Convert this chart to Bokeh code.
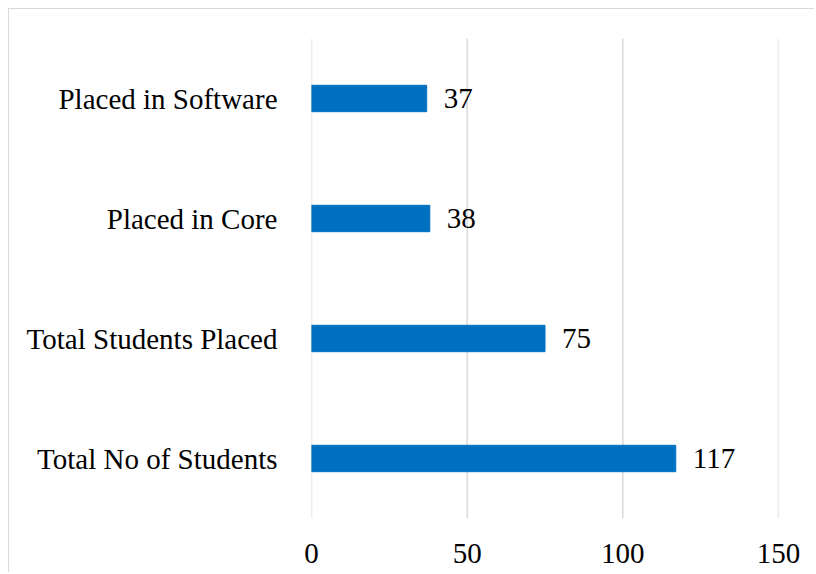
from bokeh.plotting import figure
from bokeh.models import ColumnDataSource, FactorRange, Range1d, FixedTicker, LabelSet, Span
from bokeh.embed import file_html
from bokeh.resources import INLINE

categories = ["Total No of Students", "Total Students Placed", "Placed in Core", "Placed in Software"]
values = [117, 75, 38, 37]
x_ticks = [0, 50, 100, 150]

src = ColumnDataSource(dict(cat=categories, val=values, lab=[str(v) for v in values]))

FONT = "Liberation Serif"
FS = "29px"

p = figure(width=806, height=564, output_backend="svg", toolbar_location=None,
           y_range=FactorRange(factors=categories, range_padding=0),
           x_range=Range1d(0, 150),
           min_border_left=302, min_border_right=37, min_border_top=29, min_border_bottom=55)
p.styles = {"margin-left": "8px", "margin-top": "8px",
            "border-left": "1px solid #d9d9d9", "border-top": "1px solid #d9d9d9"}
p.outline_line_color = None

for t in x_ticks:
    p.add_layout(Span(location=t, dimension="height", line_color="#d9d9d9",
                      line_width=1.5, level="underlay"))

p.hbar(y="cat", right="val", left=0, height=0.22, source=src, color="#0070C0")

labels = LabelSet(x="val", y="cat", text="lab", source=src, x_offset=17,
                  text_align="left", text_baseline="middle",
                  text_font=FONT, text_font_size=FS, text_color="#000000")
p.add_layout(labels)

p.xaxis.ticker = FixedTicker(ticks=x_ticks)
p.xaxis.axis_line_color = None
p.xaxis.major_tick_line_color = None
p.xaxis.minor_tick_line_color = None
p.xaxis.major_label_text_font = FONT
p.xaxis.major_label_text_font_size = FS
p.xaxis.major_label_text_color = "#000000"
p.xaxis.major_label_standoff = 19

p.yaxis.axis_line_color = None
p.yaxis.major_tick_line_color = None
p.yaxis.minor_tick_line_color = None
p.yaxis.major_label_text_font = FONT
p.yaxis.major_label_text_font_size = FS
p.yaxis.major_label_text_color = "#000000"
p.yaxis.major_label_standoff = 28

p.xgrid.grid_line_color = None
p.ygrid.grid_line_color = None

open("out.html", "w").write(file_html(p, INLINE))
